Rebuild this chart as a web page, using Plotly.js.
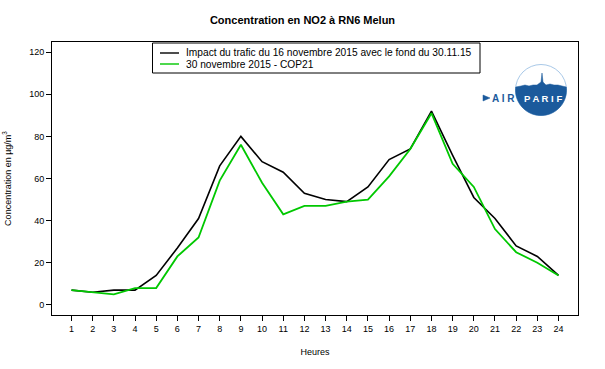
<!DOCTYPE html>
<html>
<head>
<meta charset="utf-8">
<script src="https://cdn.plot.ly/plotly-3.0.1.min.js"></script>
<style>html,body{margin:0;padding:0;background:#fff}#chart{width:605px;height:369px}</style>
</head>
<body>
<div id="chart"></div>
<script>
var hours = [1,2,3,4,5,6,7,8,9,10,11,12,13,14,15,16,17,18,19,20,21,22,23,24];
var tickLabels = ["1","2","3","4","5","6","7","8","9","10","11","12","13","14","15","16","17","18","19","20","21","22","23","24"];
var impact16nov = [7,6,7,7,14,27,41,66,80,68,63,53,50,49,56,69,74,92,71,51,41,28,23,14];
var cop21 = [7,6,5,8,8,23,32,59,76,58,43,47,47,49,50,61,74,91,67,56,36,25,20,14];
var seriesNames = ["Impact du trafic du 16 novembre 2015 avec le fond du 30.11.15", "30 novembre 2015 - COP21"];
var seriesColors = ["#000000", "#00c800"];

var FONT = "Liberation Sans, Arial, sans-serif";

// plot area in pixels
var PL = 52, PR = 578, PT = 42, PB = 315;
function px(x) { return (x - PL) / (PR - PL); }
function py(y) { return (PB - y) / (PB - PT); }

// Logo geometry (pixel offsets relative to anchor)
var R = 25.5;
function blueLogoPath() {
  var yTop = 3;
  var hw = Math.sqrt(R*R - yTop*yTop);
  var p = "M" + (-hw).toFixed(2) + "," + yTop;
  var sky = [[-20,yTop+1],[-16,yTop+2],[-12,yTop+1],[-8,yTop+2],[-4,yTop+2],[0,yTop+5],[1,yTop+14],[2,yTop+5],[5,yTop+2],[9,yTop+3],[13,yTop+2],[17,yTop+2],[21,yTop+1]];
  sky.forEach(function(s){ p += " L" + s[0] + "," + s[1]; });
  p += " L" + hw.toFixed(2) + "," + yTop;
  var a0 = Math.asin(yTop / R);
  var steps = 48;
  for (var i = 1; i <= steps; i++) {
    var a = a0 - (Math.PI + 2*a0) * i / steps;
    p += " L" + (R*Math.cos(a)).toFixed(2) + "," + (R*Math.sin(a)).toFixed(2);
  }
  return p + " Z";
}
var logoAx = px(541), logoAy = py(90);

var traces = [
  {x: hours, y: impact16nov, name: seriesNames[0], type: "scatter", mode: "lines",
   line: {color: seriesColors[0], width: 1.6}, showlegend: false},
  {x: hours, y: cop21, name: seriesNames[1], type: "scatter", mode: "lines",
   line: {color: seriesColors[1], width: 1.8}, showlegend: false}
];

// legend box (drawn as shapes + annotations to match the compact layout)
var legendRows = [53, 64];
var shapes = [
  {type: "rect", xref: "paper", yref: "paper", x0: px(152.5), x1: px(480), y0: py(73), y1: py(43),
   fillcolor: "#ffffff", line: {color: "#000", width: 1}}
];
var annotations = [];
seriesNames.forEach(function(n, i) {
  shapes.push({type: "line", xref: "paper", yref: "paper", x0: px(160), x1: px(179),
               y0: py(legendRows[i]), y1: py(legendRows[i]),
               line: {color: seriesColors[i], width: 1.4}});
  annotations.push({text: n, xref: "paper", yref: "paper", x: px(185), y: py(legendRows[i]),
                    xanchor: "left", yanchor: "middle", showarrow: false, borderpad: 0,
                    font: {family: FONT, size: 10.2, color: "#000"}});
});

shapes.push(
  {type: "circle", xref: "paper", yref: "paper", xsizemode: "pixel", ysizemode: "pixel",
   xanchor: logoAx, yanchor: logoAy, x0: -R, x1: R, y0: -R, y1: R,
   fillcolor: "#ffffff", line: {color: "#a9c9e8", width: 1}},
  {type: "path", xref: "paper", yref: "paper", xsizemode: "pixel", ysizemode: "pixel",
   xanchor: logoAx, yanchor: logoAy, path: blueLogoPath(),
   fillcolor: "#1b5a9c", line: {color: "#1b5a9c", width: 0.5}},
  {type: "path", xref: "paper", yref: "paper", xsizemode: "pixel", ysizemode: "pixel",
   xanchor: logoAx, yanchor: logoAy, path: "M-58,-5 L-58,-11 L-51,-8 Z",
   fillcolor: "#1b5a9c", line: {color: "#1b5a9c", width: 0.5}}
);
annotations.push(
  {text: "<b>P A R I F</b>", xref: "paper", yref: "paper", x: px(542.5), y: py(98),
   xanchor: "center", yanchor: "middle", showarrow: false, borderpad: 0,
   font: {family: FONT, size: 9.5, color: "#ffffff"}},
  {text: "<b>A I R</b>", xref: "paper", yref: "paper", x: px(503.5), y: py(98),
   xanchor: "center", yanchor: "middle", showarrow: false, borderpad: 0,
   font: {family: FONT, size: 10, color: "#1b5a9c"}}
);

var layout = {
  width: 605, height: 369,
  margin: {l: PL, r: 605 - PR, t: PT, b: 369 - PB},
  paper_bgcolor: "#ffffff", plot_bgcolor: "#ffffff",
  font: {family: FONT, size: 9, color: "#000"},
  showlegend: false,
  title: {text: "<b>Concentration en NO2 à RN6 Melun</b>", x: 0.5, xanchor: "center",
          y: 1 - 20/369, yanchor: "middle", font: {family: FONT, size: 11, color: "#000"}},
  xaxis: {range: [0.08, 24.92], tickvals: hours, ticktext: tickLabels,
          showline: true, mirror: true, linecolor: "#000", linewidth: 1,
          ticks: "outside", ticklen: 5, tickcolor: "#000", showgrid: false, zeroline: false,
          tickfont: {family: FONT, size: 9, color: "#000"},
          title: {text: "Heures", font: {family: FONT, size: 9, color: "#000"}, standoff: 15}},
  yaxis: {range: [-4.8, 124.8], tickvals: [0,20,40,60,80,100,120],
          showline: true, mirror: true, linecolor: "#000", linewidth: 1,
          ticks: "outside", ticklen: 5, tickcolor: "#000", showgrid: false, zeroline: false,
          tickfont: {family: FONT, size: 9, color: "#000"},
          title: {text: "Concentration en µg/m<sup>3</sup>", font: {family: FONT, size: 9, color: "#000"}, standoff: 16}},
  shapes: shapes,
  annotations: annotations
};

Plotly.newPlot("chart", traces, layout, {staticPlot: true, displayModeBar: false});
</script>
</body>
</html>
